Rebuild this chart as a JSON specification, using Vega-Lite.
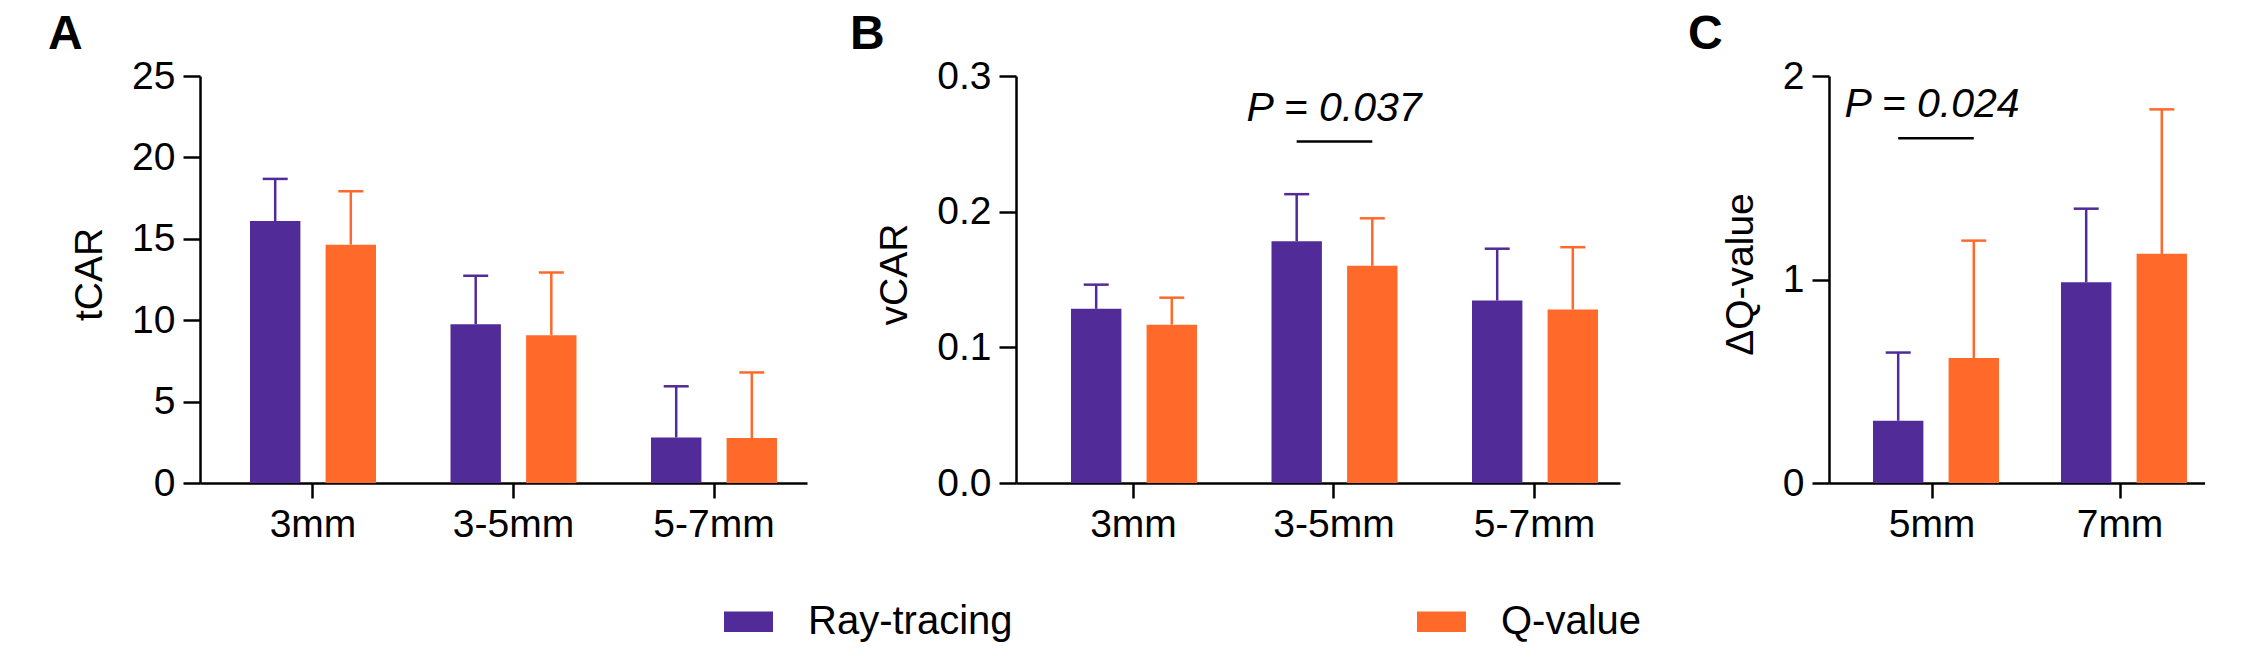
{
  "$schema": "https://vega.github.io/schema/vega-lite/v6.json",
  "background": "white",
  "padding": {"left": 48, "top": 11, "right": 0, "bottom": 0},
  "spacing": 209,
  "bounds": "flush",
  "config": {
    "font": "Liberation Sans",
    "view": {"stroke": null},
    "axis": {"labelFontSize": 39, "titleFontSize": 39, "titleFontWeight": "normal", "labelColor": "black", "titleColor": "black", "domainColor": "black", "tickColor": "black", "domainWidth": 2.5, "tickWidth": 2.5, "grid": false, "labelOverlap": false},
    "axisX": {"tickSize": 15, "labelPadding": 7, "labelAngle": 0},
    "axisY": {"tickSize": 17, "labelPadding": 8, "titlePadding": 22, "titleY": 198},
    "title": {"fontSize": 48, "fontWeight": "bold", "anchor": "start", "frame": "group", "color": "black", "dy": 6},
    "legend": {"orient": "none", "legendX": 524, "legendY": 521, "direction": "horizontal", "symbolType": "M-1,-0.418L1,-0.418L1,0.418L-1,0.418Z", "symbolSize": 2401, "symbolStrokeWidth": 0, "symbolOpacity": 1, "labelFontSize": 40, "labelColor": "black", "labelOffset": 35, "columnPadding": 404, "padding": 0, "labelLimit": 1000}
  },
  "hconcat": [
    {
      "width": 607, "height": 407,
      "title": {"text": "A", "dx": -152},
      "data": {"values": [
        {"group": "3mm", "method": "Ray-tracing", "mean": 16.09, "upper": 18.68},
        {"group": "3mm", "method": "Q-value", "mean": 14.64, "upper": 17.92},
        {"group": "3-5mm", "method": "Ray-tracing", "mean": 9.75, "upper": 12.73},
        {"group": "3-5mm", "method": "Q-value", "mean": 9.08, "upper": 12.93},
        {"group": "5-7mm", "method": "Ray-tracing", "mean": 2.80, "upper": 5.94},
        {"group": "5-7mm", "method": "Q-value", "mean": 2.76, "upper": 6.79}
      ]},
      "encoding": {
        "x": {"field": "group", "type": "nominal", "sort": ["3mm", "3-5mm", "5-7mm"], "scale": {"paddingInner": 0.3716, "paddingOuter": 0.1995, "align": 0.625}, "axis": {"title": null}},
        "y": {"field": "mean", "type": "quantitative", "scale": {"domain": [0, 25], "nice": false}, "axis": {"title": "tCAR", "values": [0, 5, 10, 15, 20, 25]}}
      },
      "layer": [
        {"mark": {"type": "bar"},
         "encoding": {
           "xOffset": {"field": "method", "type": "nominal", "sort": ["Ray-tracing", "Q-value"], "scale": {"paddingInner": 0.3333, "paddingOuter": 0}},
           "color": {"field": "method", "type": "nominal", "title": null, "sort": ["Ray-tracing", "Q-value"], "scale": {"domain": ["Ray-tracing", "Q-value"], "range": ["#512B97", "#FF6A2B"]}}}},
        {"mark": {"type": "rule", "strokeWidth": 2.5},
         "encoding": {
           "xOffset": {"field": "method", "type": "nominal", "sort": ["Ray-tracing", "Q-value"], "scale": {"paddingInner": 0.3333, "paddingOuter": 0}},
           "color": {"field": "method", "type": "nominal", "title": null, "sort": ["Ray-tracing", "Q-value"], "scale": {"domain": ["Ray-tracing", "Q-value"], "range": ["#512B97", "#FF6A2B"]}},
           "y": {"field": "mean", "type": "quantitative", "title": "tCAR"},
           "y2": {"field": "upper"}}},
        {"mark": {"type": "tick", "size": 25, "thickness": 2.5, "opacity": 1},
         "encoding": {
           "xOffset": {"field": "method", "type": "nominal", "sort": ["Ray-tracing", "Q-value"], "scale": {"paddingInner": 0.3333, "paddingOuter": 0}},
           "color": {"field": "method", "type": "nominal", "title": null, "sort": ["Ray-tracing", "Q-value"], "scale": {"domain": ["Ray-tracing", "Q-value"], "range": ["#512B97", "#FF6A2B"]}},
           "y": {"field": "upper", "type": "quantitative", "title": "tCAR"}}}
      ]
    },
    {
      "width": 604, "height": 407,
      "title": {"text": "B", "dx": -166},
      "data": {"values": [
        {"group": "3mm", "method": "Ray-tracing", "mean": 0.1284, "upper": 0.1462},
        {"group": "3mm", "method": "Q-value", "mean": 0.1167, "upper": 0.1366},
        {"group": "3-5mm", "method": "Ray-tracing", "mean": 0.1782, "upper": 0.2129},
        {"group": "3-5mm", "method": "Q-value", "mean": 0.1601, "upper": 0.1951},
        {"group": "5-7mm", "method": "Ray-tracing", "mean": 0.1345, "upper": 0.1727},
        {"group": "5-7mm", "method": "Q-value", "mean": 0.1279, "upper": 0.1738}
      ]},
      "encoding": {
        "x": {"field": "group", "type": "nominal", "sort": ["3mm", "3-5mm", "5-7mm"], "scale": {"paddingInner": 0.3766, "paddingOuter": 0.1945, "align": 0.705}, "axis": {"title": null}},
        "y": {"field": "mean", "type": "quantitative", "scale": {"domain": [0, 0.3], "nice": false}, "axis": {"title": "vCAR", "values": [0, 0.1, 0.2, 0.3], "format": ".1f"}}
      },
      "layer": [
        {"mark": {"type": "bar"},
         "encoding": {
           "xOffset": {"field": "method", "type": "nominal", "sort": ["Ray-tracing", "Q-value"], "scale": {"paddingInner": 0.3333, "paddingOuter": 0}},
           "color": {"field": "method", "type": "nominal", "title": null, "sort": ["Ray-tracing", "Q-value"], "scale": {"domain": ["Ray-tracing", "Q-value"], "range": ["#512B97", "#FF6A2B"]}}}},
        {"mark": {"type": "rule", "strokeWidth": 2.5},
         "encoding": {
           "xOffset": {"field": "method", "type": "nominal", "sort": ["Ray-tracing", "Q-value"], "scale": {"paddingInner": 0.3333, "paddingOuter": 0}},
           "color": {"field": "method", "type": "nominal", "title": null, "sort": ["Ray-tracing", "Q-value"], "scale": {"domain": ["Ray-tracing", "Q-value"], "range": ["#512B97", "#FF6A2B"]}},
           "y": {"field": "mean", "type": "quantitative", "title": "vCAR"},
           "y2": {"field": "upper"}}},
        {"mark": {"type": "tick", "size": 25, "thickness": 2.5, "opacity": 1},
         "encoding": {
           "xOffset": {"field": "method", "type": "nominal", "sort": ["Ray-tracing", "Q-value"], "scale": {"paddingInner": 0.3333, "paddingOuter": 0}},
           "color": {"field": "method", "type": "nominal", "title": null, "sort": ["Ray-tracing", "Q-value"], "scale": {"domain": ["Ray-tracing", "Q-value"], "range": ["#512B97", "#FF6A2B"]}},
           "y": {"field": "upper", "type": "quantitative", "title": "vCAR"}}},
        {"data": {"values": [
           {"group": "3-5mm", "method": "Ray-tracing", "sig": 0.2517},
           {"group": "3-5mm", "method": "Q-value", "sig": 0.2517}
         ]},
         "mark": {"type": "line", "strokeWidth": 2.5, "color": "black"},
         "encoding": {
           "xOffset": {"field": "method", "type": "nominal", "sort": ["Ray-tracing", "Q-value"], "scale": {"paddingInner": 0.3333, "paddingOuter": 0}},
           "y": {"field": "sig", "type": "quantitative", "title": "vCAR"}}},
        {"data": {"values": [{"group": "3-5mm", "ty": 0.267, "label": "P = 0.037"}]},
         "mark": {"type": "text", "fontSize": 41, "fontStyle": "italic", "baseline": "alphabetic", "align": "center", "color": "black"},
         "encoding": {
           "y": {"field": "ty", "type": "quantitative", "title": "vCAR"},
           "text": {"field": "label"}}}
      ]
    },
    {
      "width": 376, "height": 407,
      "title": {"text": "C", "dx": -141},
      "data": {"values": [
        {"group": "5mm", "method": "Ray-tracing", "mean": 0.306, "upper": 0.641},
        {"group": "5mm", "method": "Q-value", "mean": 0.614, "upper": 1.191},
        {"group": "7mm", "method": "Ray-tracing", "mean": 0.987, "upper": 1.348},
        {"group": "7mm", "method": "Q-value", "mean": 1.126, "upper": 1.836}
      ]},
      "encoding": {
        "x": {"field": "group", "type": "nominal", "sort": ["5mm", "7mm"], "scale": {"paddingInner": 0.372, "paddingOuter": 0.186, "align": 0.629}, "axis": {"title": null}},
        "y": {"field": "mean", "type": "quantitative", "scale": {"domain": [0, 2], "nice": false}, "axis": {"title": "ΔQ-value", "values": [0, 1, 2], "format": ".0f", "labelOverlap": false}}
      },
      "layer": [
        {"mark": {"type": "bar"},
         "encoding": {
           "xOffset": {"field": "method", "type": "nominal", "sort": ["Ray-tracing", "Q-value"], "scale": {"paddingInner": 0.338, "paddingOuter": 0}},
           "color": {"field": "method", "type": "nominal", "title": null, "sort": ["Ray-tracing", "Q-value"], "scale": {"domain": ["Ray-tracing", "Q-value"], "range": ["#512B97", "#FF6A2B"]}}}},
        {"mark": {"type": "rule", "strokeWidth": 2.5},
         "encoding": {
           "xOffset": {"field": "method", "type": "nominal", "sort": ["Ray-tracing", "Q-value"], "scale": {"paddingInner": 0.338, "paddingOuter": 0}},
           "color": {"field": "method", "type": "nominal", "title": null, "sort": ["Ray-tracing", "Q-value"], "scale": {"domain": ["Ray-tracing", "Q-value"], "range": ["#512B97", "#FF6A2B"]}},
           "y": {"field": "mean", "type": "quantitative", "title": "ΔQ-value"},
           "y2": {"field": "upper"}}},
        {"mark": {"type": "tick", "size": 25, "thickness": 2.5, "opacity": 1},
         "encoding": {
           "xOffset": {"field": "method", "type": "nominal", "sort": ["Ray-tracing", "Q-value"], "scale": {"paddingInner": 0.338, "paddingOuter": 0}},
           "color": {"field": "method", "type": "nominal", "title": null, "sort": ["Ray-tracing", "Q-value"], "scale": {"domain": ["Ray-tracing", "Q-value"], "range": ["#512B97", "#FF6A2B"]}},
           "y": {"field": "upper", "type": "quantitative", "title": "ΔQ-value"}}},
        {"data": {"values": [
           {"group": "5mm", "method": "Ray-tracing", "sig": 1.694},
           {"group": "5mm", "method": "Q-value", "sig": 1.694}
         ]},
         "mark": {"type": "line", "strokeWidth": 2.5, "color": "black"},
         "encoding": {
           "xOffset": {"field": "method", "type": "nominal", "sort": ["Ray-tracing", "Q-value"], "scale": {"paddingInner": 0.338, "paddingOuter": 0}},
           "y": {"field": "sig", "type": "quantitative", "title": "ΔQ-value"}}},
        {"data": {"values": [{"group": "5mm", "ty": 1.797, "label": "P = 0.024"}]},
         "mark": {"type": "text", "fontSize": 41, "fontStyle": "italic", "baseline": "alphabetic", "align": "center", "color": "black"},
         "encoding": {
           "y": {"field": "ty", "type": "quantitative", "title": "ΔQ-value"},
           "text": {"field": "label"}}}
      ]
    }
  ]
}
